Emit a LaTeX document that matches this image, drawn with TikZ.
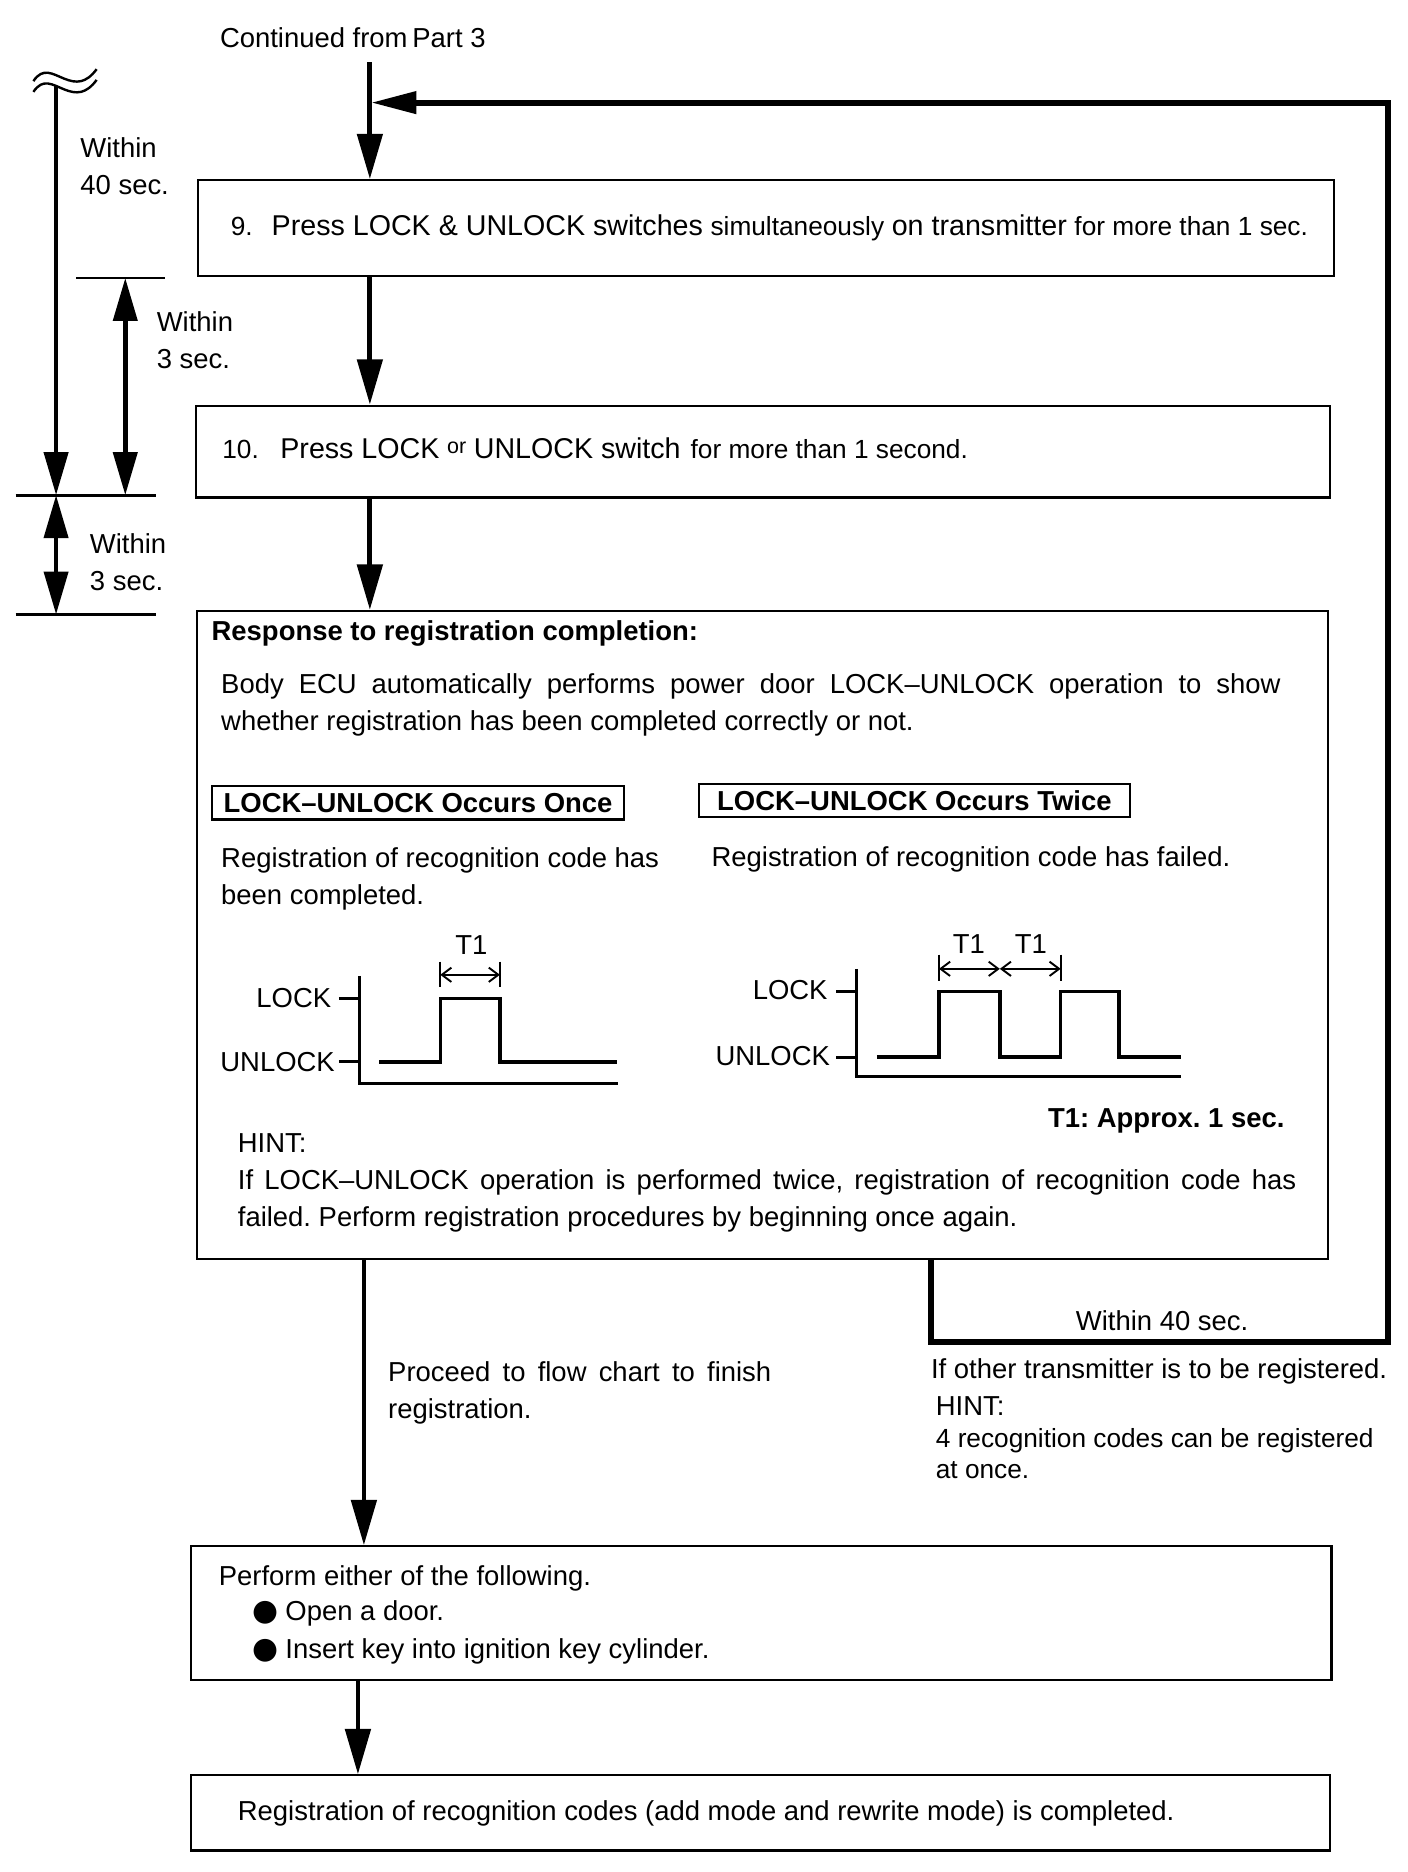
\documentclass[tikz,border=0pt]{standalone}
\usepackage{fontspec}
\setmainfont{Liberation Sans}
\newfontfamily\dejavu{DejaVu Sans}
\usetikzlibrary{arrows.meta,fit}
\newcommand\fsN{\fontsize{11.5}{15.5}\selectfont}
\newcommand\fsL{\fontsize{12}{15.5}\selectfont}
\newcommand\fsS{\fontsize{11}{15.5}\selectfont}
\newcommand\fsT{\fontsize{9}{12}\selectfont}
\frenchspacing
\begin{document}
\begin{tikzpicture}[x=0.5pt,y=-0.5pt,
  box/.style={draw, line width=0.9pt, inner sep=0pt},
  tagbox/.style={draw, line width=0.9pt, inner sep=0pt, font=\fsN\bfseries},
  txt/.style={anchor=base west, inner sep=0pt, font=\fsN},
  lab/.style={inner sep=0pt, font=\fsN},
  arr/.style={line width=2pt, -{Triangle[length=19pt,width=10.5pt]}},
  darr/.style={line width=1.9pt, {Triangle[length=18pt,width=10pt]}-{Triangle[length=18pt,width=10pt]}},
  loopline/.style={line width=2.5pt, line join=miter, -{Triangle[length=19pt,width=9pt]}},
  tick/.style={line width=1.2pt},
  axis/.style={line width=1.2pt},
  sig/.style={line width=1.4pt, line join=miter},
  tarr/.style={line width=0.8pt, {Straight Barb[length=4pt,width=6pt]}-{Straight Barb[length=4pt,width=6pt]}},
  wavy/.style={line width=1pt}
]
\useasboundingbox (0,0) rectangle (1180,1569);

% ---------- boxes ----------
\node[box, fit={(166,151) (1118,231)}] (b9) {};
\node[box, fit={(164,340) (1115,417)}] (b10) {};
\node[box, fit={(165,512) (1113,1055)}] (b3) {};
\node[box, fit={(160,1296) (1116,1408)}] (b4) {};
\node[box, fit={(160,1488) (1115,1551)}] (b5) {};

% ---------- helper coordinates ----------
\coordinate (mx) at (310,0);
\coordinate (mx2) at (305,0);
\coordinate (mx3) at (300,0);
\coordinate (cont) at (310,52);
\coordinate (lpb) at (780,1125);
\coordinate (lpr) at (1163,1125);
\coordinate (lpt) at (1163,86);
\coordinate (lpe) at (311,86);

% ---------- main flow connectors ----------
\draw[arr] (cont) -- (b9.north -| mx);
\draw[arr] (b9.south -| mx) -- (b10.north -| mx);
\draw[arr] (b10.south -| mx) -- (b3.north -| mx);
\draw[arr] (b3.south -| mx2) -- (b4.north -| mx2);
\draw[arr] (b4.south -| mx3) -- (b5.north -| mx3);
\draw[loopline] (b3.south -| lpb) -- (lpb) -- (lpr) -- (lpt) -- (lpe);

% ---------- texts top ----------
\node[txt] (tcont) at (184,40) {Continued from\hspace{2pt}Part 3};
\node[txt] (t9) at (193,197) {{\fsS 9.}\hspace{8pt}{\fsL Press LOCK \& UNLOCK switches} {\fsS simultaneously} {\fsL on transmitter} {\fsS for more than 1 sec.}};
\node[txt] (t10) at (186,384) {{\fsS 10.}\hspace{9pt}{\fsL Press LOCK} \raisebox{2pt}{\fsT or} {\fsL UNLOCK switch}\hspace{1pt} {\fsS for more than 1 second.}};

% ---------- timing on the left ----------
\draw[wavy] (28,68) .. controls (36,56) and (44,62) .. (54,66) .. controls (64,70) and (72,70) .. (81,58);
\draw[wavy] (28,77) .. controls (36,65) and (44,71) .. (54,75) .. controls (64,79) and (72,79) .. (81,67);
\coordinate (w40s) at (47,72);
\coordinate (t3a) at (105,233);
\coordinate (t3b) at (105,415);
\coordinate (t3c) at (47,415);
\coordinate (t3d) at (47,515);
\draw[line width=1.9pt, -{Triangle[length=18pt,width=10pt]}] (w40s) -- (t3c);
\draw[tick] (64,233) -- (138,233);
\draw[darr] (t3a) -- (t3b);
\draw[tick] (13,415) -- (131,415);
\draw[darr] (t3c) -- (t3d);
\draw[tick] (13,515) -- (131,515);
\node[txt] (w1a) at (67,132) {Within};
\node[txt] (w1b) at (67,163) {40 sec.};
\node[txt] (w2a) at (131,278) {Within};
\node[txt] (w2b) at (131,309) {3 sec.};
\node[txt] (w3a) at (75,464) {Within};
\node[txt] (w3b) at (75,495) {3 sec.};

% ---------- response box content ----------
\node[txt, font=\fsN\bfseries] (resp) at (177,537) {Response to registration completion:};
\node[txt] (body1) at (185,581) {\makebox[444pt][s]{Body ECU automatically performs power door LOCK–UNLOCK operation to show}};
\node[txt] (body2) at (185,612) {whether registration has been completed correctly or not.};

\node[tagbox, minimum width=172.5pt, minimum height=14pt, anchor=north west] (once) at (177,658) {LOCK–UNLOCK Occurs Once};
\node[tagbox, minimum width=180.5pt, minimum height=14pt, anchor=north west] (twice) at (585,656) {LOCK–UNLOCK Occurs Twice};

\node[txt] (ok1) at (185,727) {Registration of recognition code has};
\node[txt] (ok2) at (185,758) {been completed.};
\node[txt] (ng1) at (596,726) {Registration of recognition code has failed.};

% waveform 1
\draw[axis] (301,818) -- (301,908) -- (518,908);
\draw[tick] (284,837) -- (301,837);
\draw[tick] (284,890) -- (301,890);
\draw[sig] (318,890) -- (369,890) -- (369,837) -- (419,837) -- (419,890) -- (517,890);
\draw[line width=0.8pt] (369,806) -- (369,827);
\draw[line width=0.8pt] (419,806) -- (419,827);
\coordinate (ta1) at (369,817);
\coordinate (ta2) at (419,817);
\draw[tarr] (ta1) -- (ta2);
\node[lab, anchor=base east] (lk1) at (278,844) {LOCK};
\node[lab, anchor=base east] (ul1) at (281,898) {UNLOCK};
\node[lab, anchor=base] (t1a) at (395,800) {T1};

% waveform 2
\draw[axis] (718,812) -- (718,902) -- (990,902);
\draw[tick] (701,831) -- (718,831);
\draw[tick] (701,886) -- (718,886);
\draw[sig] (735,886) -- (787,886) -- (787,831) -- (838,831) -- (838,886) -- (889,886) -- (889,831) -- (938,831) -- (938,886) -- (990,886);
\draw[line width=0.8pt] (787,800) -- (787,822);
\draw[line width=0.8pt] (889,800) -- (889,822);
\coordinate (tb1) at (787,812);
\coordinate (tb2) at (838,812);
\coordinate (tb3) at (889,812);
\draw[tarr] (tb1) -- (tb2);
\draw[tarr] (tb2) -- (tb3);
\node[lab, anchor=base east] (lk2) at (694,838) {LOCK};
\node[lab, anchor=base east] (ul2) at (696,893) {UNLOCK};
\node[lab, anchor=base] (t1b) at (812,799) {T1};
\node[lab, anchor=base] (t1c) at (864,799) {T1};

\node[lab, anchor=base east, font=\fsN\bfseries] (approx) at (1077,945) {T1: Approx. 1 sec.};
\node[txt] (hint) at (199,966) {HINT:};
\node[txt] (hint1) at (199,997) {\makebox[443.5pt][s]{If LOCK–UNLOCK operation is performed twice, registration of recognition code has}};
\node[txt] (hint2) at (199,1028) {failed. Perform registration procedures by beginning once again.};

% ---------- below ----------
\node[txt] (proc1) at (325,1158) {\makebox[160.5pt][s]{Proceed to flow chart to finish}};
\node[txt] (proc2) at (325,1189) {registration.};
\node[lab, anchor=base] (w40c) at (974,1115) {Within 40 sec.};
\node[txt] (other) at (780,1155) {If other transmitter is to be registered.};
\node[txt] (hint3) at (784,1186) {HINT:};
\node[txt, font=\fsS] (hint4) at (784,1213) {4 recognition codes can be registered};
\node[txt, font=\fsS] (hint5) at (784,1239) {at once.};

\node[txt] (perf) at (183,1329) {Perform either of the following.};
\node[txt] (bul1) at (211,1358) {{\dejavu\fontsize{12.5}{15}\selectfont ●}\hspace{3pt}Open a door.};
\node[txt] (bul2) at (211,1390) {{\dejavu\fontsize{12.5}{15}\selectfont ●}\hspace{3pt}Insert key into ignition key cylinder.};

\node[txt] (done) at (199,1526) {Registration of recognition codes (add mode and rewrite mode) is completed.};
\end{tikzpicture}
\end{document}
